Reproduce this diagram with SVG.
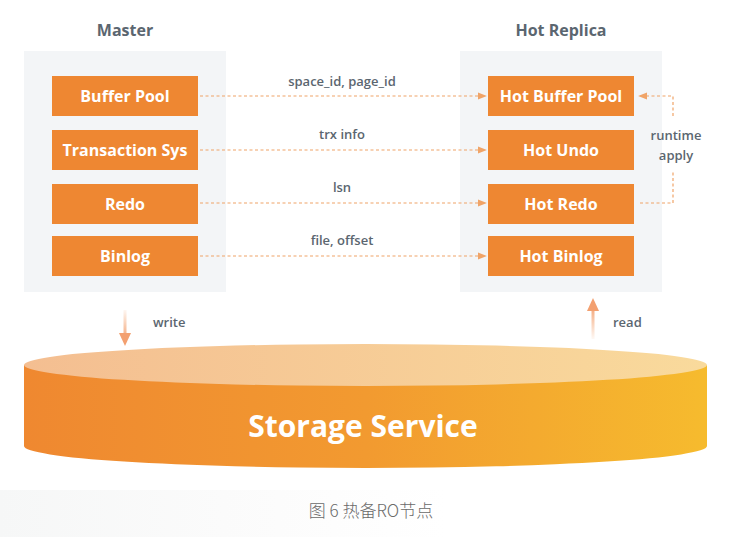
<svg xmlns="http://www.w3.org/2000/svg" width="743" height="537" viewBox="0 0 743 537">
<defs>
<style>
.panel{fill:#F3F5F7}
.box{fill:#EE8732}
.bt{font-family:"Open Sans","Liberation Sans",sans-serif;font-weight:700;font-size:16px;fill:#fff;text-anchor:middle}
.ht{font-family:"Open Sans","Liberation Sans",sans-serif;font-weight:700;font-size:16px;fill:#5B6670;text-anchor:middle}
.lt{font-family:"Open Sans","Liberation Sans",sans-serif;font-weight:600;font-size:13px;fill:#5B6670;text-anchor:middle}
.st{text-anchor:start}
.dash{fill:none;stroke:#F0A468;stroke-width:1.2;stroke-dasharray:3 2.5}
</style>
<marker id="ah" viewBox="0 0 10 10" refX="9" refY="5" markerWidth="9" markerHeight="9" markerUnits="userSpaceOnUse" orient="auto">
<path d="M0,1 L10,5 L0,9 Z" fill="#F0A468"/>
</marker>
<linearGradient id="side" x1="0" y1="0" x2="1" y2="0">
<stop offset="0" stop-color="#EF8830"/>
<stop offset="0.5" stop-color="#F29A30"/>
<stop offset="1" stop-color="#F6BB2E"/>
</linearGradient>
<linearGradient id="top" x1="0" y1="0" x2="1" y2="0">
<stop offset="0" stop-color="#F4BE91"/>
<stop offset="1" stop-color="#F9DA9C"/>
</linearGradient>
<linearGradient id="wg" gradientUnits="userSpaceOnUse" x1="0" y1="310" x2="0" y2="340">
<stop offset="0" stop-color="#F3A877" stop-opacity="0.1"/>
<stop offset="1" stop-color="#F3A070"/>
</linearGradient>
<linearGradient id="rg" gradientUnits="userSpaceOnUse" x1="0" y1="340" x2="0" y2="305">
<stop offset="0" stop-color="#F3A877" stop-opacity="0.05"/>
<stop offset="1" stop-color="#F3A070"/>
</linearGradient>
<linearGradient id="bot" x1="0" y1="0" x2="1" y2="0">
<stop offset="0" stop-color="#F6F7F7"/>
<stop offset="0.3" stop-color="#FBFBFB"/>
<stop offset="0.6" stop-color="#FFFFFF"/>
</linearGradient>
</defs>
<rect width="743" height="537" fill="#fff"/>
<rect x="0" y="490" width="743" height="47" fill="url(#bot)"/>

<g id="master">
<text class="ht" x="125" y="36">Master</text>
<rect class="panel" x="24" y="51" width="202" height="241"/>
</g>
<g id="replica">
<text class="ht" x="561" y="36">Hot Replica</text>
<rect class="panel" x="460" y="51" width="202" height="241"/>
</g>

<g id="buffer-pool"><rect class="box" x="52" y="76" width="146" height="40"/><text class="bt" x="125" y="102">Buffer Pool</text></g>
<g id="transaction-sys"><rect class="box" x="52" y="130" width="146" height="40"/><text class="bt" x="125" y="156">Transaction Sys</text></g>
<g id="redo"><rect class="box" x="52" y="184" width="146" height="40"/><text class="bt" x="125" y="210">Redo</text></g>
<g id="binlog"><rect class="box" x="52" y="236" width="146" height="40"/><text class="bt" x="125" y="262">Binlog</text></g>

<g id="hot-buffer-pool"><rect class="box" x="488" y="76" width="146" height="40"/><text class="bt" x="561" y="102">Hot Buffer Pool</text></g>
<g id="hot-undo"><rect class="box" x="488" y="130" width="146" height="40"/><text class="bt" x="561" y="156">Hot Undo</text></g>
<g id="hot-redo"><rect class="box" x="488" y="184" width="146" height="40"/><text class="bt" x="561" y="210">Hot Redo</text></g>
<g id="hot-binlog"><rect class="box" x="488" y="236" width="146" height="40"/><text class="bt" x="561" y="262">Hot Binlog</text></g>

<g id="connectors">
<path class="dash" d="M200,96 H486" marker-end="url(#ah)"/>
<path class="dash" d="M200,150 H486" marker-end="url(#ah)"/>
<path class="dash" d="M200,203 H486" marker-end="url(#ah)"/>
<path class="dash" d="M200,256 H486" marker-end="url(#ah)"/>
<path class="dash" d="M673,116 V96 H639" marker-end="url(#ah)"/>
<path class="dash" d="M640,203 H673 V170"/>
<rect x="123.5" y="310" width="3" height="25" fill="url(#wg)"/>
<path d="M119,333 L131,333 L125,346 Z" fill="#F3A070"/>
<rect x="591.5" y="309" width="3" height="30" fill="url(#rg)"/>
<path d="M587,311 L599,311 L593,298 Z" fill="#F3A070"/>
</g>

<g id="labels">
<text class="lt" x="342" y="86">space_id, page_id</text>
<text class="lt" x="342" y="139">trx info</text>
<text class="lt" x="342" y="192">lsn</text>
<text class="lt" x="342" y="245">file, offset</text>
<text class="lt" x="676" y="140">runtime</text>
<text class="lt" x="676" y="160">apply</text>
<text class="lt st" x="153" y="327">write</text>
<text class="lt st" x="613" y="327">read</text>
</g>

<g id="storage-service">
<path d="M24,365 V446 A341.5,22 0 0 0 707,446 V365 Z" fill="url(#side)"/>
<ellipse cx="365.5" cy="365" rx="341.5" ry="21" fill="url(#top)"/>
<text x="363" y="437" font-family="'Open Sans','Liberation Sans',sans-serif" font-weight="700" font-size="30" fill="#fff" text-anchor="middle">Storage Service</text>
</g>

<text x="371" y="517" font-family="'Noto Sans CJK SC','Noto Sans',sans-serif" font-size="17" font-weight="300" fill="#6A6A6A" text-anchor="middle">图 6 热备RO节点</text>
</svg>
